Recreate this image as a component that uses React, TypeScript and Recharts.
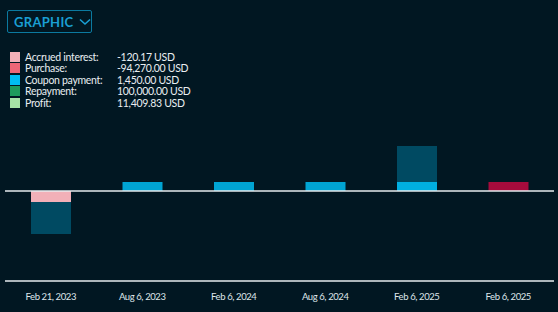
import React from "react";
import { BarChart, Bar, XAxis, YAxis, ReferenceLine, Cell } from "recharts";

const categories = ["Feb 21, 2023", "Aug 6, 2023", "Feb 6, 2024", "Aug 6, 2024", "Feb 6, 2025", "Feb 6, 2025"];
// bar segment heights (display units)
const accruedBars = [-1.22, 0, 0, 0, 0, 0];
const purchaseBars = [-3.56, 0, 0, 0, 0, 0];
const couponBars = [0, 1, 1, 1, 1, 0];
const repaymentBars = [0, 0, 0, 0, 4, 0];
const profitBars = [0, 0, 0, 0, 0, 1];

const legendLabels = ["Accrued interest:", "Purchase:", "Coupon payment:", "Repayment:", "Profit:"];
const legendValues = ["-120.17 USD", "-94,270.00 USD", "1,450.00 USD", "100,000.00 USD", "11,409.83 USD"];
const legendColors = ["#f2b0b8", "#ee6677", "#00bdf2", "#1e9b5c", "#a6e3a6"];

const data = categories.map((c, i) => ({
  name: c,
  accrued: accruedBars[i],
  purchase: purchaseBars[i],
  coupon: couponBars[i],
  repayment: repaymentBars[i],
  profit: profitBars[i],
}));

const BG = "#011722";
const FONT = "Lato, 'Noto Sans', sans-serif";

export default function App() {
  return (
    <div style={{ position: "absolute", left: 0, top: 0, width: 558, height: 312, background: BG, fontFamily: FONT, overflow: "hidden" }}>
      <div
        style={{
          position: "absolute", left: 7, top: 10, width: 85, height: 23,
          border: "1px solid #0b7aa0", borderRadius: 2, boxSizing: "border-box",
          color: "#1a9fd3", fontWeight: 700, fontSize: 13, display: "flex", alignItems: "center",
          paddingLeft: 6, letterSpacing: 0.3,
        }}
      >
        GRAPHIC
        <svg width="12" height="8" style={{ marginLeft: 6 }}>
          <polyline points="1,1.5 6,6 11,1.5" fill="none" stroke="#1a9fd3" strokeWidth="1.6" />
        </svg>
      </div>
      <div style={{ position: "absolute", left: 10, top: 51 }}>
        {legendLabels.map((l, i) => (
          <div key={l} style={{ display: "flex", alignItems: "center", height: 11.5, fontSize: 10.5, color: "#e9eef1", letterSpacing: -0.3 }}>
            <div style={{ width: 10, height: 10, background: legendColors[i], marginRight: 5 }} />
            <div style={{ width: 92 }}>{l}</div>
            <div>{legendValues[i]}</div>
          </div>
        ))}
      </div>
      <div style={{ position: "absolute", left: 0, top: 0 }}>
        <BarChart
          width={558}
          height={312}
          data={data}
          stackOffset="sign"
          barCategoryGap={0}
          margin={{ top: 101, right: 4, bottom: 0, left: 5 }}
        >
          <YAxis hide domain={[-10, 10]} type="number" allowDataOverflow />
          <XAxis
            dataKey="name"
            interval={0}
            tickLine={false}
            axisLine={{ stroke: "#e6ecef", strokeWidth: 1.5 }}
            tick={{ fill: "#dfe6ea", fontSize: 9.5, fontFamily: FONT, letterSpacing: -0.4 }}
            tickMargin={6}
            height={31}
          />
          <Bar dataKey="accrued" stackId="a" fill="#f2b0b8" barSize={40} isAnimationActive={false} />
          <Bar dataKey="purchase" stackId="a" fill="#004a62" barSize={40} isAnimationActive={false} />
          <Bar dataKey="coupon" stackId="a" fill="#00a4d3" barSize={40} isAnimationActive={false}>
            {data.map((d, i) => (
              <Cell key={i} fill={d.repayment > 0 ? "#00afe1" : "#00a4d3"} />
            ))}
          </Bar>
          <Bar dataKey="repayment" stackId="a" fill="#004a62" barSize={40} isAnimationActive={false} />
          <Bar dataKey="profit" stackId="a" fill="#a60b3c" barSize={40} isAnimationActive={false} />
          <ReferenceLine y={0} stroke="#e6ecef" strokeWidth={1.5} />
        </BarChart>
      </div>
    </div>
  );
}
